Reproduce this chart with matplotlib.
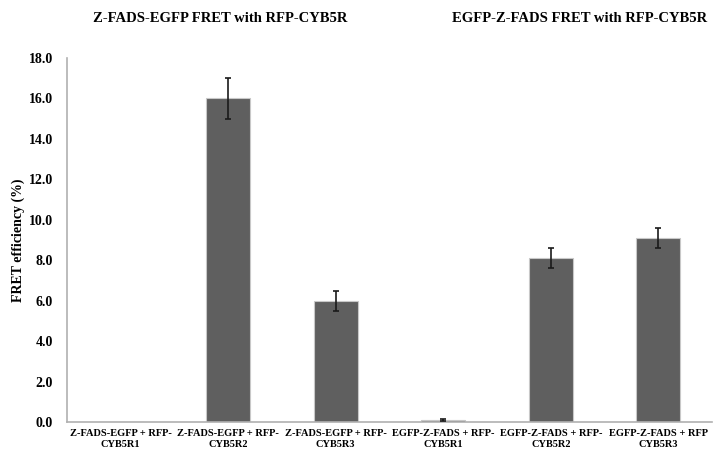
import matplotlib
matplotlib.use("Agg")
import matplotlib.pyplot as plt
import numpy as np

categories = [
    "Z-FADS-EGFP + RFP-\nCYB5R1",
    "Z-FADS-EGFP + RFP-\nCYB5R2",
    "Z-FADS-EGFP + RFP-\nCYB5R3",
    "EGFP-Z-FADS + RFP-\nCYB5R1",
    "EGFP-Z-FADS + RFP-\nCYB5R2",
    "EGFP-Z-FADS + RFP\nCYB5R3",
]
fret_values = [0.0, 16.0, 6.0, 0.1, 8.1, 9.1]
fret_errors = [0.0, 1.0, 0.5, 0.03, 0.5, 0.5]
y_ticks = [0, 2, 4, 6, 8, 10, 12, 14, 16, 18]
group_titles = ["Z-FADS-EGFP FRET with RFP-CYB5R", "EGFP-Z-FADS FRET with RFP-CYB5R"]

plt.rcParams["font.family"] = ["Liberation Serif", "DejaVu Serif"]
plt.rcParams["font.weight"] = "bold"

fig = plt.figure(figsize=(7.18, 4.55), dpi=100)
ax = fig.add_axes([67 / 718, 33 / 455, 645 / 718, 364 / 455])

x = np.arange(len(categories))
vals = np.array(fret_values)
errs = np.array(fret_errors)
ax.bar(x, vals, width=0.41, color="#5f5f5f", edgecolor="#c8c8c8",
       linewidth=0.8, zorder=2)
has_err = errs > 0
ax.errorbar(x[has_err], vals[has_err], yerr=errs[has_err], fmt="none",
            ecolor="#1a1a1a", elinewidth=1.2, capsize=2.5, capthick=1.2, zorder=3)

ax.set_xlim(-0.5, len(categories) - 0.5)
ax.set_ylim(0, 18)
ax.set_yticks(y_ticks)
ax.set_yticklabels([f"{v:.1f}" for v in y_ticks], fontsize=10, fontweight="bold")
ax.set_xticks(x)
ax.set_xticklabels(categories, fontsize=7.5, fontweight="bold", linespacing=1.3)
ax.tick_params(axis="both", length=0, pad=5)
ax.tick_params(axis="y", pad=10)
ax.set_ylabel("FRET efficiency (%)", fontsize=10, fontweight="bold", labelpad=3)

for side in ("top", "right"):
    ax.spines[side].set_visible(False)
for side in ("left", "bottom"):
    ax.spines[side].set_color("#b0b0b0")
    ax.spines[side].set_linewidth(1.2)

fig.text(220 / 718, 1 - 18 / 455, group_titles[0], ha="center", va="center",
         fontsize=10.5, fontweight="bold")
fig.text(580 / 718, 1 - 18 / 455, group_titles[1], ha="center", va="center",
         fontsize=10.5, fontweight="bold")

fig.savefig("out.png", dpi=100)
